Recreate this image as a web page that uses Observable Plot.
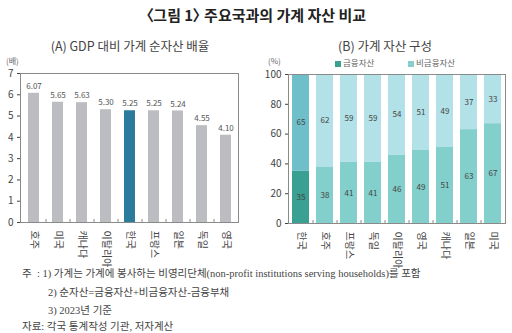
<!DOCTYPE html>
<html><head><meta charset="utf-8">
<script src="https://cdn.jsdelivr.net/npm/d3@7"></script>
<script src="https://cdn.jsdelivr.net/npm/@observablehq/plot@0.6"></script>
<style>
body{margin:0;width:512px;height:333px;position:relative;background:#fff;font-family:"Noto Sans CJK KR","Noto Sans",sans-serif;color:#333;overflow:hidden}
.abs{position:absolute;white-space:nowrap}
#title{top:4px;left:0;width:512px;text-align:center;font-weight:bold;font-size:15px;color:#222;font-feature-settings:"palt"}
.sub{top:36px;font-size:12.5px;color:#444}
.unit{font-size:8px;color:#666;line-height:1}
.note{font-family:"Liberation Serif","Noto Sans CJK KR",serif;font-size:10.5px;color:#444}
.sw{display:inline-block;width:6px;height:6px;margin-right:2px;vertical-align:middle}
</style></head><body>
<div id="title" class="abs">〈그림 1〉 주요국과의 가계 자산 비교</div>
<div class="abs sub" style="left:0;width:260px;text-align:center">(A) GDP 대비 가계 순자산 배율</div>
<div class="abs sub" style="left:258px;width:254px;text-align:center">(B) 가계 자산 구성</div>
<div class="abs unit" style="left:6px;top:57px">(배)</div>
<div class="abs unit" style="left:268px;top:57px">(%)</div>
<div class="abs unit" style="left:335px;top:58px;font-size:8.5px"><span class="sw" style="background:#3aa092"></span>금융자산</div>
<div class="abs unit" style="left:408px;top:58px;font-size:8.5px"><span class="sw" style="background:#86cfcc"></span>비금융자산</div>
<div id="left" class="abs" style="left:0;top:55px"></div>
<div id="right" class="abs" style="left:250px;top:55px"></div>
<div class="abs note" style="left:22px;top:265px">주&nbsp;&nbsp;: 1) 가계는 가계에 봉사하는 비영리단체(non-profit institutions serving households)를 포함</div>
<div class="abs note" style="left:48px;top:284px">2) 순자산=금융자산+비금융자산-금융부채</div>
<div class="abs note" style="left:48px;top:302px">3) 2023년 기준</div>
<div class="abs note" style="left:22px;top:318px">자료: 각국 통계작성 기관, 저자계산</div>
<script>
// Panel A
const countriesA = ["호주","미국","캐나다","이탈리아","한국","프랑스","일본","독일","영국"];
const ratioA = [6.07,5.65,5.63,5.30,5.25,5.25,5.24,4.55,4.10];
const yTicksA = [0,1,2,3,4,5,6,7];
// Panel B
const countriesB = ["한국","호주","프랑스","독일","이탈리아","영국","캐나다","일본","미국"];
const financialB = [35,38,41,41,46,49,51,63,67];
const nonFinancialB = [65,62,59,59,54,51,49,37,33];
const yTicksB = [0,20,40,60,80,100];
const typesB = ["금융자산","비금융자산"];

const dataA = countriesA.map((c,i)=>({country:c, value:ratioA[i]}));
const dataB = countriesB.flatMap((c,i)=>[
  {country:c, type:typesB[0], value:financialB[i]},
  {country:c, type:typesB[1], value:nonFinancialB[i]}
]);

const fontStyle = {fontFamily:'"Noto Sans CJK KR","Noto Sans",sans-serif', fontSize:"10px", color:"#444", background:"transparent"};

const colorA = d => d.country === "한국" ? "#2b7c9c" : "#bcbdc0";
const colorB = d => d.country === "한국"
  ? (d.type === "금융자산" ? "#3aa092" : "#6fbfcb")
  : (d.type === "금융자산" ? "#82cfcb" : "#b3e1e8");

const left = Plot.plot({
  width: 250, height: 212,
  marginTop: 18, marginBottom: 45, marginLeft: 20, marginRight: 12,
  style: fontStyle,
  x: {domain: countriesA, paddingInner: 0.55, paddingOuter: 0.275, label: null, tickSize: 0, tickRotate: 90, tickPadding: 8},
  y: {domain: [0,7], ticks: yTicksA, tickFormat: d3.format("d"), label: null, tickSize: 3, tickPadding: 4},
  marks: [
    Plot.barY(dataA, {x:"country", y:"value", fill: colorA}),
    Plot.text(dataA, {x:"country", y:"value", text: d=>d.value.toFixed(2), dy:-7, fontSize:8, fill:"#555"}),
    Plot.ruleX(countriesA.slice(0,-1), {x: d=>d, dx: 12, insetTop: 146, stroke:"#8a8a8a"}),
    Plot.frame({stroke:"#8a8a8a"})
  ]
});
document.getElementById("left").append(left);

const right = Plot.plot({
  width: 262, height: 213,
  marginTop: 19, marginBottom: 45, marginLeft: 38, marginRight: 7,
  style: fontStyle,
  x: {domain: countriesB, paddingInner: 0.28, paddingOuter: 0.14, label: null, tickSize: 0, tickRotate: 90, tickPadding: 8},
  y: {domain: [0,100], ticks: yTicksB, tickFormat: d3.format("d"), label: null, tickSize: 3, tickPadding: 4},
  marks: [
    Plot.barY(dataB, {x:"country", y:"value", z:"type", fill: colorB, order: typesB}),
    Plot.text(dataB, Plot.stackY({x:"country", y:"value", z:"type", text: d=>String(d.value), order: typesB, fontSize:8, fill:"#444"})),
    Plot.ruleX(countriesB.slice(0,-1), {x: d=>d, dx: 12, insetTop: 146, stroke:"#8a8a8a"}),
    Plot.frame({stroke:"#8a8a8a"})
  ]
});
document.getElementById("right").append(right);
</script>
</body></html>
